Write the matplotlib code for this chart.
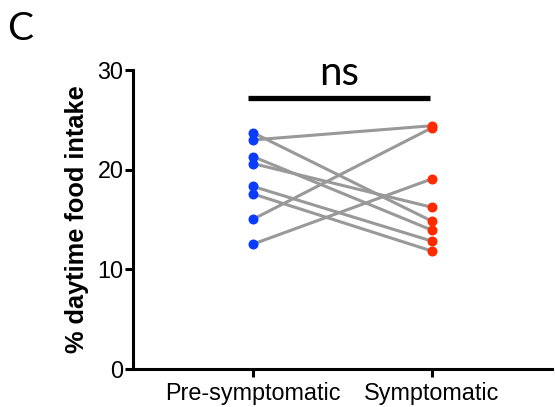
import matplotlib
matplotlib.use("Agg")
import matplotlib.pyplot as plt

categories = ["Pre-symptomatic", "Symptomatic"]
pre = [23.7, 22.97, 21.3, 20.6, 18.3, 17.55, 15.0, 12.5]
symp = [14.8, 24.4, 13.9, 16.2, 12.8, 11.8, 24.2, 19.06]
yticks = [0, 10, 20, 30]
sig_label = "ns"
sig_level = 27.2
panel_label = "C"

W, H = 555, 407
fig = plt.figure(figsize=(W / 100, H / 100), dpi=100)
ax = fig.add_axes([133 / W, 1 - 368.5 / H, (552 - 133) / W, (368.5 - 70) / H])

for a, b in zip(pre, symp):
    ax.plot([0, 1], [a, b], color="#999999", lw=2.2, zorder=1, solid_capstyle="butt")
ax.plot([0] * len(pre), pre, "o", color="#0a3cff", ms=7.2, mew=0, zorder=3)
ax.plot([1] * len(symp), symp, "o", color="#ff2a00", ms=7.2, mew=0, zorder=3)

ax.set_xlim(-0.67, 1.67)
ax.set_ylim(0, 30)
ax.set_xticks([0, 1])
ax.set_xticklabels(categories, fontsize=16.8, family="Liberation Sans")
ax.set_yticks(yticks)
ax.set_yticklabels([str(t) for t in yticks], fontsize=16.8, family="Liberation Sans")
for s in ["top", "right"]:
    ax.spines[s].set_visible(False)
for s in ["left", "bottom"]:
    ax.spines[s].set_linewidth(2.2)
ax.tick_params(axis="both", width=2.2, length=5.8, color="black", pad=1)
ax.tick_params(axis="x", pad=4)
ax.set_ylabel("% daytime food intake", fontsize=18.3, fontweight="bold",
              family="Liberation Sans", labelpad=6)

ax.plot([-0.03, 0.99], [sig_level, sig_level], color="black", lw=3.8,
        clip_on=False, solid_capstyle="butt")
ax.text(0.48, sig_level + 1.3, sig_label, ha="center", va="baseline",
        fontsize=29, family="Lato", clip_on=False)

fig.text(7 / W, 1 - 40 / H, panel_label, fontsize=28, family="Lato",
         ha="left", va="baseline")

fig.savefig("out.png", dpi=100)
